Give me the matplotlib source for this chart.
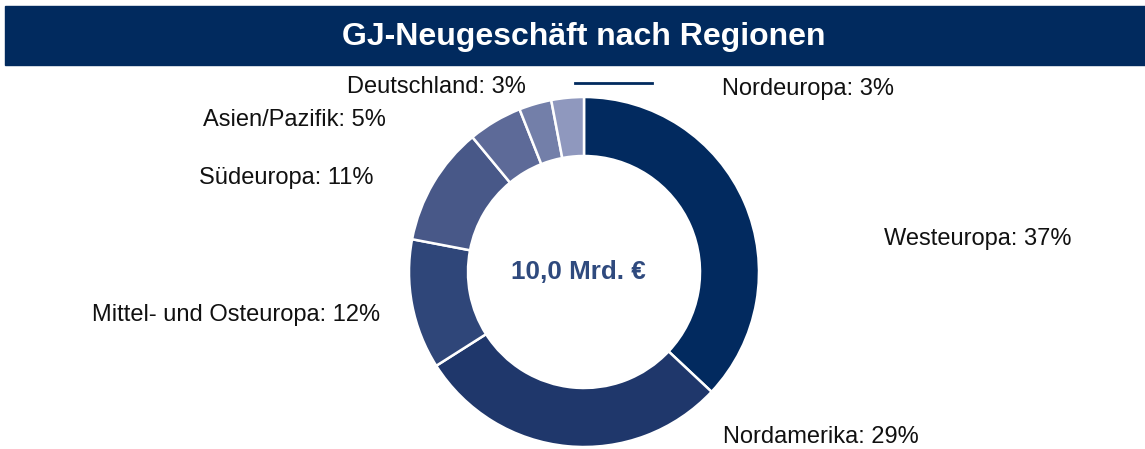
import matplotlib.pyplot as plt
from matplotlib.patches import Rectangle

plt.rcParams['font.family'] = ['Liberation Sans', 'DejaVu Sans']

# Neugeschäft by region, clockwise from 12 o'clock
regions = ['Westeuropa', 'Nordamerika', 'Mittel- und Osteuropa', 'Südeuropa',
           'Asien/Pazifik', 'Deutschland', 'Nordeuropa']
shares = [37, 29, 12, 11, 5, 3, 3]
colors = ['#022a5f', '#1f376b', '#2f4679', '#485888', '#5d6a98', '#737fa9', '#8f98be']

# label anchor (left edge, centre y) in pixel coords from the top-left
label_pos = [(884, 239), (723, 437), (92, 315), (199, 178),
             (203, 120), (347, 87), (722, 89)]

title = 'GJ-Neugeschäft nach Regionen'
total_text = '10,0 Mrd. €'

W, H = 1145, 449
fig = plt.figure(figsize=(W / 100, H / 100), dpi=100)
ax = fig.add_axes([0, 0, 1, 1])
ax.set_xlim(0, W)
ax.set_ylim(0, H)
ax.set_aspect('equal')
ax.axis('off')

# title bar
ax.add_patch(Rectangle((5, H - 65), W - 5, 59, color='#012a5e', zorder=1))
ax.text(584, H - 37, title, color='white', fontsize=23, fontweight='bold',
        ha='center', va='center', zorder=2)

# donut
cx, cy, R = 584, H - 272, 175
ax.pie(shares, colors=colors, startangle=90, counterclock=False,
       center=(cx, cy), radius=R, frame=True,
       wedgeprops=dict(width=59, edgecolor='white', linewidth=1.8))
ax.set_xlim(0, W)
ax.set_ylim(0, H)
ax.axis('off')

ax.text(cx - 6, cy, total_text, color='#2f4a7e', fontsize=18.7,
        fontweight='bold', ha='center', va='center')

for name, val, (x, y) in zip(regions, shares, label_pos):
    ax.text(x, H - y, f'{name}: {val}%', fontsize=17, color='#111111',
            ha='left', va='center')

# leader line near the top labels
ax.plot([575, 652], [H - 83, H - 83], color='#012a5e', lw=2)

fig.savefig('out.png', dpi=100)
